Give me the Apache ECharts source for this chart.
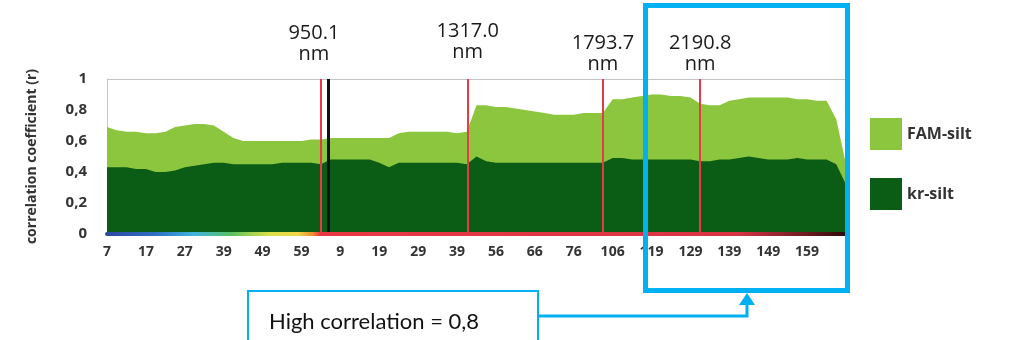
<!DOCTYPE html>
<html>
<head>
<meta charset="utf-8">
<script src="https://cdn.jsdelivr.net/npm/echarts@6/dist/echarts.min.js"></script>
<style>
  html, body { margin: 0; padding: 0; background: #fff; }
  #chart { width: 1013px; height: 340px; }
</style>
</head>
<body>
<div id="chart"></div>
<script>
// band index labels shown under the axis (one every 4 samples)
const tickLabels = ['7', '17', '27', '39', '49', '59', '9', '19', '29', '39', '56', '66', '76', '106', '119', '129', '139', '149', '159'];

// correlation, one value per sample (77 samples)
const famSilt = [
  0.69, 0.67, 0.66, 0.66, 0.65, 0.65, 0.66, 0.69, 0.70, 0.71,
  0.71, 0.70, 0.66, 0.62, 0.60, 0.60, 0.60, 0.60, 0.60, 0.60,
  0.60, 0.61, 0.61, 0.62, 0.62, 0.62, 0.62, 0.62, 0.62, 0.62,
  0.65, 0.66, 0.66, 0.66, 0.66, 0.66, 0.65, 0.66, 0.83, 0.83,
  0.82, 0.82, 0.81, 0.80, 0.79, 0.78, 0.77, 0.77, 0.77, 0.78,
  0.78, 0.78, 0.87, 0.87, 0.88, 0.89, 0.90, 0.90, 0.89, 0.89,
  0.88, 0.84, 0.83, 0.83, 0.86, 0.87, 0.88, 0.88, 0.88, 0.88,
  0.88, 0.87, 0.87, 0.86, 0.86, 0.74, 0.45
];
const krSilt = [
  0.43, 0.43, 0.43, 0.42, 0.42, 0.40, 0.40, 0.41, 0.43, 0.44,
  0.45, 0.46, 0.46, 0.45, 0.45, 0.45, 0.45, 0.45, 0.46, 0.46,
  0.46, 0.46, 0.45, 0.48, 0.48, 0.48, 0.48, 0.48, 0.46, 0.43,
  0.46, 0.46, 0.46, 0.46, 0.46, 0.46, 0.46, 0.45, 0.50, 0.47,
  0.46, 0.46, 0.46, 0.46, 0.46, 0.46, 0.46, 0.46, 0.46, 0.46,
  0.46, 0.46, 0.49, 0.49, 0.48, 0.48, 0.48, 0.48, 0.48, 0.48,
  0.48, 0.47, 0.47, 0.48, 0.48, 0.49, 0.50, 0.49, 0.48, 0.48,
  0.48, 0.49, 0.48, 0.48, 0.48, 0.45, 0.32
];

// wavelength markers (sample position + label)
const markerPos = [22, 37.1, 51, 61];
const markerText = ['950.1\nnm', '1317.0\nnm', '1793.7\nnm', '2190.8\nnm'];
const markerGap = [14, 16, 4, 4];
const markerShift = [-7, 0, 0, 0];
const blackLinePos = 22.8;

const chart = echarts.init(document.getElementById('chart'));

const toPairs = arr => arr.map((v, i) => [i, v]);
const font = "'Open Sans', sans-serif";
const blue = '#00b0f0';

const markLines = markerPos.map((p, k) => ({
  xAxis: p,
  lineStyle: { color: '#e63a48', width: 2, type: 'solid' },
  label: {
    show: true,
    position: 'end',
    distance: markerGap[k],
    offset: [markerShift[k], 0],
    formatter: markerText[k],
    fontFamily: font,
    fontSize: 20,
    fontWeight: 500,
    lineHeight: 21,
    color: '#1a1a1a'
  }
}));
markLines.push({
  xAxis: blackLinePos,
  lineStyle: { color: '#111', width: 3, type: 'solid' },
  label: { show: false }
});

chart.setOption({
  backgroundColor: '#fff',
  animation: false,
  grid: { left: 107, right: 167, top: 79, bottom: 106 },
  legend: {
    orient: 'vertical',
    left: 865,
    top: 113,
    itemWidth: 32,
    itemHeight: 32,
    itemGap: 28,
    icon: 'rect',
    textStyle: { fontFamily: font, fontSize: 16, fontWeight: 'bold', color: '#333' },
    data: ['FAM-silt', 'kr-silt']
  },
  xAxis: {
    type: 'value',
    min: 0,
    max: famSilt.length - 1,
    interval: 4,
    z: 5,
    splitLine: { show: false },
    axisTick: { show: false },
    axisLine: {
      lineStyle: {
        width: 4,
        color: new echarts.graphic.LinearGradient(0, 0, 1, 0, [
          { offset: 0, color: '#2c47a0' },
          { offset: 0.07, color: '#3070c4' },
          { offset: 0.12, color: '#40b4e0' },
          { offset: 0.17, color: '#58c060' },
          { offset: 0.22, color: '#d8e048' },
          { offset: 0.26, color: '#f2d848' },
          { offset: 0.28, color: '#f08a34' },
          { offset: 0.29, color: '#e83844' },
          { offset: 0.85, color: '#d83444' },
          { offset: 1, color: '#2a0a0a' }
        ])
      }
    },
    axisLabel: {
      margin: 11,
      fontFamily: font,
      fontSize: 14,
      fontWeight: 'bold',
      color: '#333',
      showMaxLabel: false,
      formatter: v => tickLabels[v / 4] || ''
    }
  },
  yAxis: {
    type: 'value',
    min: 0,
    max: 1,
    interval: 0.2,
    name: 'correlation coefficient (r)',
    nameLocation: 'middle',
    nameGap: 68,
    nameTextStyle: { fontFamily: font, fontSize: 14, fontWeight: 'bold', color: '#333' },
    splitLine: { show: false },
    axisTick: { show: false },
    axisLine: { show: true, lineStyle: { color: '#c8c8c8', width: 1 } },
    axisLabel: {
      margin: 20,
      fontFamily: font,
      fontSize: 15,
      fontWeight: 'bold',
      color: '#333',
      formatter: v => String(+v.toFixed(1)).replace('.', ',')
    }
  },
  series: [
    {
      name: 'FAM-silt',
      type: 'line',
      data: toPairs(famSilt),
      showSymbol: false,
      symbol: 'none',
      itemStyle: { color: '#8cc63f' },
      lineStyle: { width: 0 },
      areaStyle: { color: '#8cc63f', opacity: 1 },
      markLine: {
        silent: true,
        symbol: 'none',
        label: { show: false },
        lineStyle: { color: '#c4c4c4', width: 1, type: 'solid' },
        data: [{ yAxis: 1 }]
      }
    },
    {
      name: 'kr-silt',
      type: 'line',
      data: toPairs(krSilt),
      showSymbol: false,
      symbol: 'none',
      itemStyle: { color: '#0b5d16' },
      lineStyle: { width: 0 },
      areaStyle: { color: '#0b5d16', opacity: 1 },
      markLine: {
        silent: true,
        symbol: 'none',
        data: markLines
      }
    }
  ],
  graphic: [
    {
      type: 'rect',
      shape: { x: 645.5, y: 5.5, width: 202, height: 285 },
      style: { fill: 'none', stroke: blue, lineWidth: 5 },
      z: 100
    },
    {
      type: 'rect',
      shape: { x: 248, y: 291, width: 290, height: 70 },
      style: { fill: '#fff', stroke: blue, lineWidth: 2 },
      z: 100
    },
    {
      type: 'text',
      x: 269,
      y: 322,
      style: {
        text: 'High correlation = 0,8',
        font: "22px Lato, 'Open Sans', sans-serif",
        fill: '#111',
        textVerticalAlign: 'middle'
      },
      z: 101
    },
    {
      type: 'polyline',
      shape: { points: [[539, 316], [747, 316], [747, 303]] },
      style: { fill: 'none', stroke: blue, lineWidth: 3 },
      z: 100
    },
    {
      type: 'polygon',
      shape: { points: [[739, 305], [755, 305], [747, 293]] },
      style: { fill: blue },
      z: 100
    }
  ]
});
</script>
</body>
</html>
